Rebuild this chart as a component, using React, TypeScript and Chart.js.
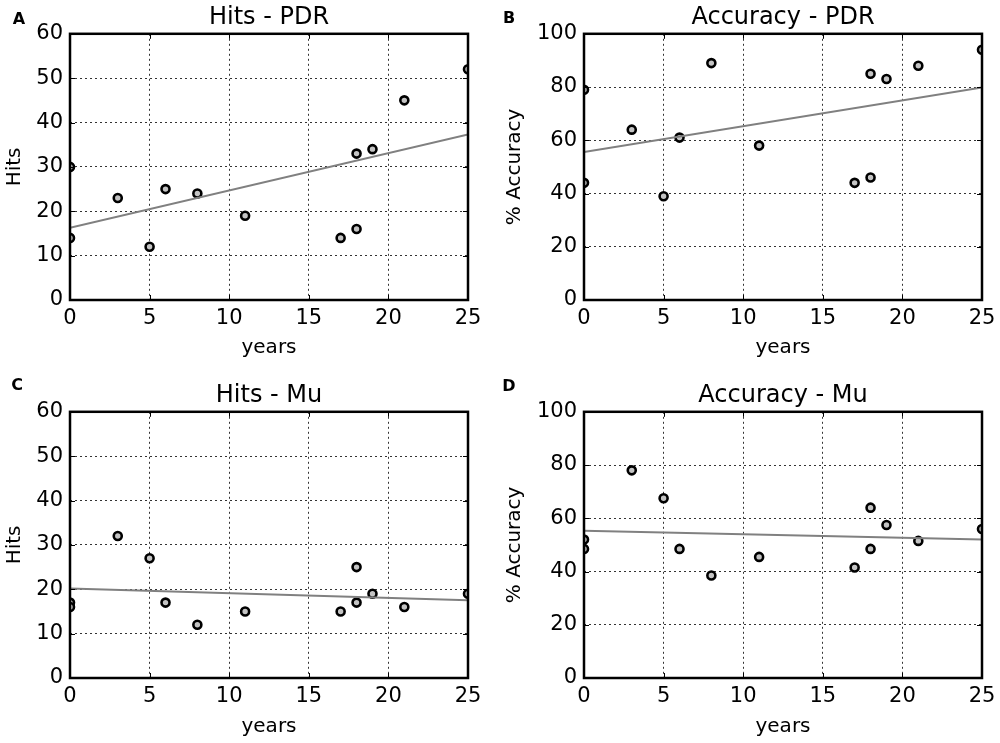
import { useEffect, useRef } from 'react'
import Chart from 'chart.js/auto'

// shared x values (years), same order in every panel
const years = [0, 0, 3, 5, 6, 8, 11, 17, 18, 18, 19, 21, 25]

const hitsPDR = [30, 14, 23, 12, 25, 24, 19, 14, 33, 16, 34, 45, 52]
const accuracyPDR = [79, 44, 64, 39, 61, 89, 58, 44, 85, 46, 83, 88, 94]
const hitsMu = [17, 16, 32, 27, 17, 12, 15, 15, 25, 17, 19, 16, 19]
const accuracyMu = [52, 48.5, 78, 67.5, 48.5, 38.5, 45.5, 41.5, 64, 48.5, 57.5, 51.5, 56]

// regression lines, value at start and end of fitYears
const fitYears = [0, 25]
const hitsPDRFit = [16.3, 37.3]
const accuracyPDRFit = [55.6, 79.8]
const hitsMuFit = [20.2, 17.5]
const accuracyMuFit = [55.3, 52]

const FONT = "'DejaVu Sans', 'Bitstream Vera Sans', sans-serif"

// black frame plus small inward ticks, like matplotlib classic
const framePlugin = {
  id: 'frame',
  afterDatasetsDraw(chart: any) {
    const { ctx, chartArea, scales } = chart
    const { left, top, right, bottom } = chartArea
    ctx.save()
    ctx.strokeStyle = '#000'
    ctx.lineWidth = 1
    ctx.beginPath()
    scales.x.ticks.forEach((t: any) => {
      const px = Math.round(scales.x.getPixelForValue(t.value)) + 0.5
      ctx.moveTo(px, bottom)
      ctx.lineTo(px, bottom - 5)
      ctx.moveTo(px, top)
      ctx.lineTo(px, top + 5)
    })
    scales.y.ticks.forEach((t: any) => {
      const py = Math.round(scales.y.getPixelForValue(t.value)) + 0.5
      ctx.moveTo(left, py)
      ctx.lineTo(left + 5, py)
      ctx.moveTo(right, py)
      ctx.lineTo(right - 5, py)
    })
    ctx.stroke()
    ctx.lineWidth = 2.5
    ctx.strokeRect(left, top, right - left, bottom - top)
    ctx.restore()
  },
}

interface PanelProps {
  title: string
  yLabel: string
  values: number[]
  fit: number[]
  yMax: number
  yStep: number
  box: { left: number; top: number; width: number; height: number }
  yWidth: number
  xHeight: number
  titleTop: number
  padRight: number
  xTitleBottom: number
}

function Panel(p: PanelProps) {
  const chartRef = useRef<HTMLCanvasElement>(null)

  useEffect(() => {
    if (!chartRef.current) return
    const chart = new Chart(chartRef.current, {
      type: 'scatter',
      data: {
        datasets: [
          {
            type: 'line',
            data: fitYears.map((x, i) => ({ x, y: p.fit[i] })),
            borderColor: '#808080',
            borderWidth: 2,
            pointRadius: 0,
            fill: false,
            clip: 0,
          } as any,
          {
            data: years.map((x, i) => ({ x, y: p.values[i] })),
            pointRadius: 4,
            pointBorderWidth: 2.6,
            pointBackgroundColor: '#c4c4c4',
            pointBorderColor: '#000',
            clip: 0,
          },
        ],
      },
      options: {
        animation: false,
        responsive: true,
        maintainAspectRatio: false,
        layout: { padding: { top: 0, right: p.padRight, bottom: 0, left: 0 } },
        plugins: {
          legend: { display: false },
          tooltip: { enabled: false },
          title: {
            display: true,
            text: p.title,
            fullSize: false,
            color: '#000',
            font: { family: FONT, size: 24, weight: 'normal' },
            padding: { top: p.titleTop, bottom: 2 },
          },
        },
        scales: {
          x: {
            type: 'linear',
            min: 0,
            max: 25,
            grid: { color: 'rgba(0,0,0,0.8)', lineWidth: 1, drawTicks: false },
            border: { display: false, dash: [2, 3] },
            ticks: {
              stepSize: 5,
              padding: 6,
              color: '#000',
              font: { family: FONT, size: 21 },
            },
            title: {
              display: true,
              text: 'years',
              color: '#000',
              font: { family: FONT, size: 20 },
              padding: { top: 0, bottom: p.xTitleBottom },
            },
            afterFit(scale: any) {
              scale.height = p.xHeight
              scale.paddingLeft = 0
              scale.paddingRight = 0
            },
          },
          y: {
            type: 'linear',
            min: 0,
            max: p.yMax,
            grid: { color: 'rgba(0,0,0,0.8)', lineWidth: 1, drawTicks: false },
            border: { display: false, dash: [2, 3] },
            ticks: {
              stepSize: p.yStep,
              padding: 7,
              color: '#000',
              font: { family: FONT, size: 21 },
            },
            title: {
              display: true,
              text: p.yLabel,
              color: '#000',
              font: { family: FONT, size: 20 },
              padding: { top: 3, bottom: 0 },
            },
            afterFit(scale: any) {
              scale.width = p.yWidth
              scale.paddingTop = 0
              scale.paddingBottom = 0
            },
          },
        },
      },
      plugins: [framePlugin],
    })
    return () => chart.destroy()
  }, [])

  return (
    <div
      style={{
        position: 'absolute',
        left: p.box.left,
        top: p.box.top,
        width: p.box.width,
        height: p.box.height,
      }}
    >
      <canvas ref={chartRef} />
    </div>
  )
}

function Letter({ text, x, y }: { text: string; x: number; y: number }) {
  return (
    <div
      style={{
        position: 'absolute',
        left: x,
        top: y,
        transform: 'translate(-50%, -50%)',
        fontFamily: FONT,
        fontWeight: 'bold',
        fontSize: 16,
        lineHeight: 1,
        color: '#000',
      }}
    >
      {text}
    </div>
  )
}

export default function App() {
  return (
    <div
      style={{
        position: 'absolute',
        left: 0,
        top: 0,
        width: 1000,
        height: 743,
        background: '#fff',
        overflow: 'hidden',
      }}
    >
      <Panel
        title="Hits - PDR"
        yLabel="Hits"
        values={hitsPDR}
        fit={hitsPDRFit}
        yMax={60}
        yStep={10}
        box={{ left: 0, top: 0, width: 490, height: 370 }}
        yWidth={70}
        xHeight={70}
        titleTop={3}
        padRight={22}
        xTitleBottom={10}
      />
      <Panel
        title="Accuracy - PDR"
        yLabel="% Accuracy"
        values={accuracyPDR}
        fit={accuracyPDRFit}
        yMax={100}
        yStep={20}
        box={{ left: 500, top: 0, width: 500, height: 370 }}
        yWidth={84}
        xHeight={70}
        titleTop={3}
        padRight={18}
        xTitleBottom={10}
      />
      <Panel
        title="Hits - Mu"
        yLabel="Hits"
        values={hitsMu}
        fit={hitsMuFit}
        yMax={60}
        yStep={10}
        box={{ left: 0, top: 370, width: 490, height: 373 }}
        yWidth={70}
        xHeight={65}
        titleTop={11}
        padRight={22}
        xTitleBottom={4}
      />
      <Panel
        title="Accuracy - Mu"
        yLabel="% Accuracy"
        values={accuracyMu}
        fit={accuracyMuFit}
        yMax={100}
        yStep={20}
        box={{ left: 500, top: 370, width: 500, height: 373 }}
        yWidth={84}
        xHeight={65}
        titleTop={11}
        padRight={18}
        xTitleBottom={4}
      />
      <Letter text="A" x={19} y={19} />
      <Letter text="B" x={509} y={18} />
      <Letter text="C" x={17} y={385} />
      <Letter text="D" x={509} y={386} />
    </div>
  )
}
